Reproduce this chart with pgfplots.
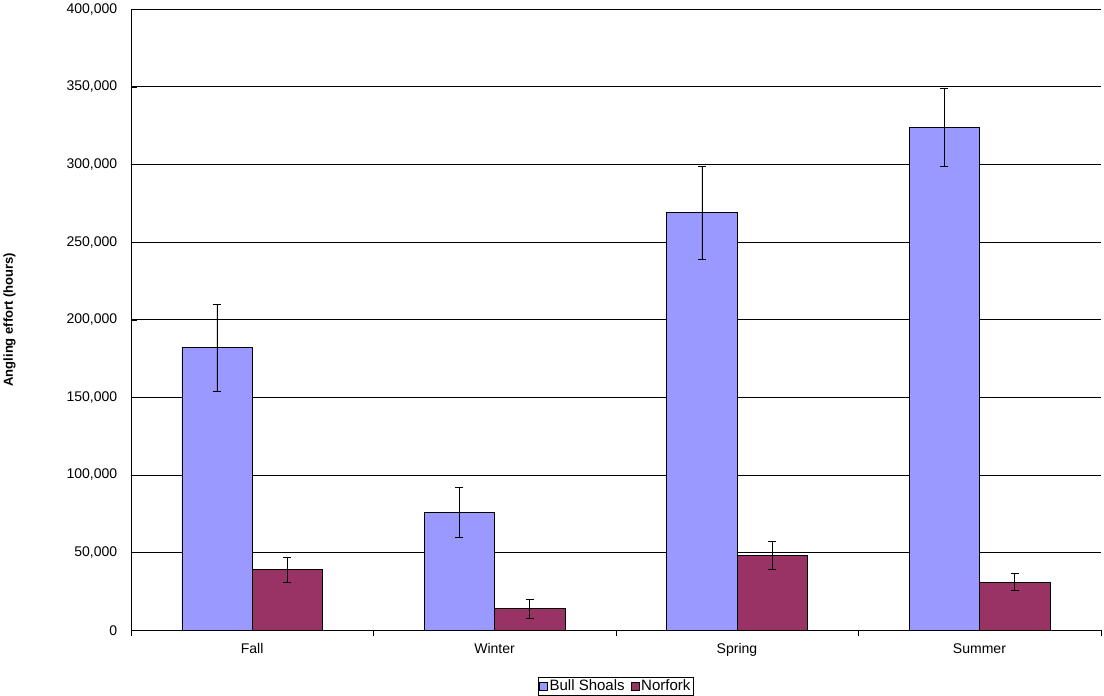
\documentclass[border=0pt]{standalone}
\usepackage{pgfplots}
\pgfplotsset{compat=1.18}
\usepackage{fontspec}
\setmainfont{Liberation Sans}
\definecolor{bs}{HTML}{9999FF}
\definecolor{nf}{HTML}{993366}
\begin{document}
\begin{tikzpicture}
\begin{axis}[
  scale only axis, width=965bp, height=618bp,
  ybar=0pt, bar width=0.29,
  xmin=-0.5, xmax=3.5, ymin=0, ymax=400000,
  xtick={0,1,2,3}, xticklabels={Fall,Winter,Spring,Summer},
  ytick={0,50000,...,400000},
  yticklabel style={/pgf/number format/fixed,/pgf/number format/1000 sep={,}, xshift=-10bp},
  scaled y ticks=false,
  /pgf/number format/assume math mode=true,
  ymajorgrids, grid style={black, line width=0.6pt},
  axis line style={black}, axis x line*=bottom, axis y line*=left,
  major tick length=6bp,
  ytick style={black}, xtick style={draw=none},
  extra x ticks={-0.5,0.5,1.5,2.5,3.5}, extra x tick labels={},
  extra x tick style={grid=none, xtick style={draw=black}},
  ticklabel style={font=\fontsize{14}{16}\selectfont},
  xticklabel style={yshift=-4bp},
  ylabel={\bfseries Angling effort (hours)},
  ylabel shift=44bp,
  ylabel style={font=\fontsize{13}{15}\selectfont},
  legend style={at={(0.5,-0.075)}, anchor=north, legend columns=2, draw=black, font=\fontsize{15}{17}\selectfont, inner sep=1pt, /tikz/every even column/.style={column sep=4bp}},
  legend image code/.code={\draw[#1] (0cm,-0.14cm) rectangle (0.28cm,0.14cm);},
  every axis plot/.append style={draw=black, line width=0.5pt},
  error bars/error bar style={black, line width=0.5pt},
  error bars/error mark options={rotate=90, mark size=4bp, black},
]
\addplot[fill=bs, error bars/.cd, y dir=both, y explicit] coordinates {
 (0,182000) +- (0,28000)
 (1,76000) +- (0,16000)
 (2,269000) +- (0,30000)
 (3,324000) +- (0,25000)};
\addplot[fill=nf, error bars/.cd, y dir=both, y explicit] coordinates {
 (0,39000) +- (0,8000)
 (1,14000) +- (0,6000)
 (2,48000) +- (0,9000)
 (3,31000) +- (0,5500)};
\legend{Bull Shoals,Norfork}
\end{axis}
\end{tikzpicture}
\end{document}
